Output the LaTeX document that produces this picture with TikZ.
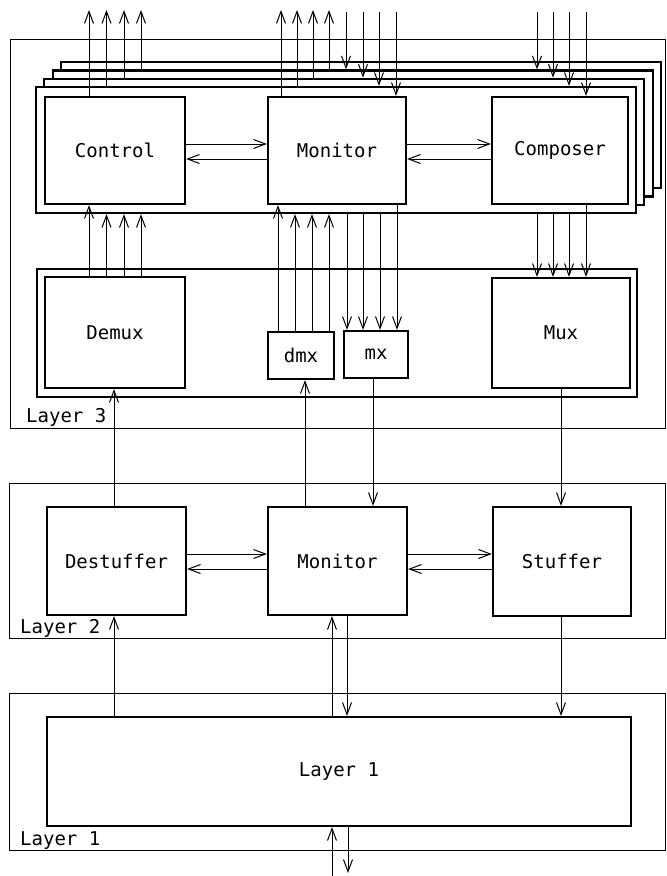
\documentclass[tikz,border=0pt]{standalone}
\usepackage{fontspec}
\setmonofont{DejaVu Sans Mono}
\usetikzlibrary{arrows.meta}

\begin{document}
\begin{tikzpicture}[x=1pt,y=-1pt,
  >={Straight Barb[length=12pt,width=9pt]},
  every node/.style={font=\ttfamily\fontsize{19}{22}\selectfont},
  blk/.style={draw,line width=2.2pt,fill=white,inner sep=0pt,
    minimum width=138pt,minimum height=107pt},
  frm/.style={draw,line width=2.2pt,fill=white,
    minimum width=600pt,minimum height=126pt},
  lyr/.style={draw,line width=0.8pt},
  wire/.style={line width=1pt},
  lbl/.style={anchor=base west,inner sep=0pt}]

\useasboundingbox (0,0) rectangle (667,876);
\clip (0,0) rectangle (667,876);

\coordinate (top) at (0,10);
\coordinate (topd) at (0,12);
\coordinate (bot) at (0,876);
\coordinate (botd) at (0,873);

\draw[lyr] (10,39) rectangle (665,428);
\draw[lyr] (9,483) rectangle (665,638);
\draw[lyr] (9,693) rectangle (665,850);

\foreach \k in {3,2,1,0}
  \node[frm] (f\k) at ({336+8.3*\k},{150-8.3*\k}) {};

\node[blk,minimum width=140pt] (ctrl) at (115,150.5) {Control};
\node[blk] (mon3) at (337,150.5) {Monitor};
\node[blk,minimum width=136pt] (comp) at (560,150.5) {Composer};

\node[frm,minimum height=128pt] (grp) at (337,333) {};
\node[blk,minimum width=140pt,minimum height=111pt] (demux) at (115,332.5) {Demux};
\node[blk,minimum height=110pt] (mux) at (561,333) {Mux};
\node[blk,minimum width=66pt,minimum height=47pt] (dmx) at (301,355.5) {dmx};
\node[blk,minimum width=64pt,minimum height=47pt] (mx) at (376,354.5) {mx};

\node[blk,minimum width=139pt,minimum height=108pt] (dstf) at (116.5,561) {Destuffer};
\node[blk,minimum width=139pt,minimum height=108pt] (mon2) at (337.5,561) {Monitor};
\node[blk,minimum height=109pt] (stuf) at (562,561.5) {Stuffer};

\node[blk,minimum width=584pt,minimum height=109pt] (l1) at (339,771.5) {Layer 1};

\node[lbl] (lab3) at (26,422) {Layer 3};
\node[lbl] (lab2) at (20,633) {Layer 2};
\node[lbl] (lab1) at (20,845) {Layer 1};

\foreach \x/\n in {89/ctrl,106.5/f0,124/f1,141/f2}
  \draw[wire,->] (\x,0 |- \n.north) -- (\x,0 |- top);
\foreach \x/\n in {281/mon3,297/f0,313/f1,329/f2}
  \draw[wire,->] (\x,0 |- \n.north) -- (\x,0 |- top);
\foreach \x/\n in {346/f2,363/f1,379/f0,396/mon3}
  \draw[wire,->] (\x,0 |- topd) -- (\x,0 |- \n.north);
\foreach \x/\n in {537/f2,553/f1,569/f0,586/comp}
  \draw[wire,->] (\x,0 |- topd) -- (\x,0 |- \n.north);

\draw[wire,->] (ctrl.east |- 0,144) -- (mon3.west |- 0,144);
\draw[wire,->] (mon3.west |- 0,159) -- (ctrl.east |- 0,159);
\draw[wire,->] (mon3.east |- 0,144) -- (comp.west |- 0,144);
\draw[wire,->] (comp.west |- 0,159) -- (mon3.east |- 0,159);

\foreach \x/\n in {89/ctrl,106.5/f0,124/f0,141/f0}
  \draw[wire,->] (\x,0 |- demux.north) -- (\x,0 |- \n.south);
\foreach \x/\n in {278/mon3,295/f0,312/f0,329/f0}
  \draw[wire,->] (\x,0 |- dmx.north) -- (\x,0 |- \n.south);
\foreach \x/\n in {347/f0,363/f0,380/f0,397/mon3}
  \draw[wire,->] (\x,0 |- \n.south) -- (\x,0 |- mx.north);
\foreach \x/\n in {537/f0,553/f0,569/f0,586/comp}
  \draw[wire,->] (\x,0 |- \n.south) -- (\x,0 |- mux.north);

\draw[wire,->] (114,0 |- dstf.north) -- (114,0 |- demux.south);
\draw[wire,->] (305,0 |- mon2.north) -- (305,0 |- dmx.south);
\draw[wire,->] (373,0 |- mx.south) -- (373,0 |- mon2.north);
\draw[wire,->] (561,0 |- mux.south) -- (561,0 |- stuf.north);

\draw[wire,->] (dstf.east |- 0,554) -- (mon2.west |- 0,554);
\draw[wire,->] (mon2.west |- 0,569) -- (dstf.east |- 0,569);
\draw[wire,->] (mon2.east |- 0,554) -- (stuf.west |- 0,554);
\draw[wire,->] (stuf.west |- 0,569) -- (mon2.east |- 0,569);

\draw[wire,->] (114,0 |- l1.north) -- (114,0 |- dstf.south);
\draw[wire,->] (332,0 |- l1.north) -- (332,0 |- mon2.south);
\draw[wire,->] (347,0 |- mon2.south) -- (347,0 |- l1.north);
\draw[wire,->] (561,0 |- stuf.south) -- (561,0 |- l1.north);
\draw[wire,->] (332,0 |- bot) -- (332,0 |- l1.south);
\draw[wire,->] (348,0 |- l1.south) -- (348,0 |- botd);

\end{tikzpicture}
\end{document}
